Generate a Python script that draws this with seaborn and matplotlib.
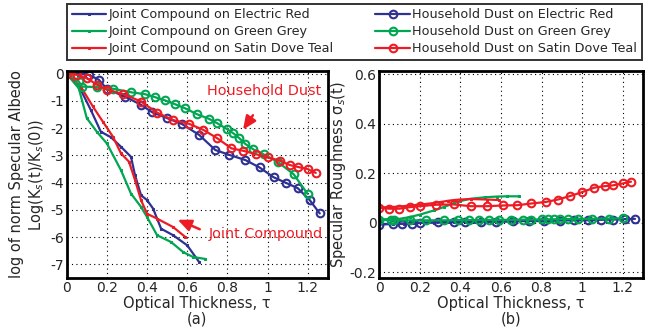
import numpy as np
import pandas as pd
import matplotlib
matplotlib.use("Agg")
import matplotlib.pyplot as plt
import seaborn as sns
from matplotlib.ticker import FuncFormatter

# ---- data ----
series_names = [
    "Joint Compound on Electric Red",
    "Joint Compound on Green Grey",
    "Joint Compound on Satin Dove Teal",
    "Household Dust on Electric Red",
    "Household Dust on Green Grey",
    "Household Dust on Satin Dove Teal",
]

jc_blue_x = [0, 0.07, 0.12, 0.17, 0.22, 0.27, 0.32, 0.34, 0.37, 0.40, 0.43, 0.47, 0.53, 0.60, 0.66]
jc_blue_a = [0, -0.59, -1.33, -2.13, -2.33, -2.68, -3.05, -3.72, -4.46, -4.64, -4.95, -5.69, -5.93, -6.30, -6.92]
jc_blue_b = [-0.005, -0.004, -0.003, -0.002, 0.0, 0.001, 0.002, 0.002, 0.003, 0.003, 0.004, 0.004, 0.005, 0.006, 0.006]

jc_green_x = [0, 0.06, 0.10, 0.15, 0.20, 0.27, 0.32, 0.37, 0.40, 0.45, 0.52, 0.58, 0.63, 0.69]
jc_green_a = [0, -0.53, -1.63, -2.13, -2.56, -3.54, -4.40, -4.89, -5.26, -5.93, -6.18, -6.55, -6.73, -6.80]
jc_green_b = [0.014, 0.015, 0.016, 0.023, 0.033, 0.050, 0.064, 0.080, 0.088, 0.097, 0.103, 0.106, 0.107, 0.107]

jc_red_x = [0, 0.07, 0.13, 0.18, 0.23, 0.27, 0.31, 0.34, 0.37, 0.40, 0.45, 0.53, 0.59]
jc_red_a = [0, -0.47, -1.20, -1.76, -2.31, -2.92, -3.23, -3.90, -4.64, -5.14, -5.32, -5.63, -5.99]
jc_red_b = [0.062, 0.064, 0.068, 0.072, 0.076, 0.080, 0.085, 0.089, 0.092, 0.094, 0.096, 0.094, 0.092]

hd_blue_x = [0, 0.07, 0.11, 0.16, 0.20, 0.29, 0.37, 0.425, 0.50, 0.575, 0.66, 0.74, 0.81, 0.89, 0.96, 1.03, 1.09, 1.15, 1.21, 1.26]
hd_blue_a = [0, 0, -0.04, -0.22, -0.56, -0.84, -1.14, -1.41, -1.63, -1.85, -2.25, -2.80, -2.98, -3.17, -3.44, -3.80, -4.00, -4.20, -4.64, -5.13]
hd_blue_b = [-0.007, -0.005, -0.004, -0.003, 0.0, 0.002, 0.003, 0.004, 0.005, 0.004, 0.006, 0.007, 0.007, 0.009, 0.010, 0.010, 0.012, 0.013, 0.015, 0.016]

hd_green_x = [0, 0.06, 0.075, 0.15, 0.23, 0.32, 0.39, 0.44, 0.49, 0.54, 0.59, 0.65, 0.71, 0.75, 0.80, 0.83, 0.86, 0.89, 0.93, 0.98, 1.05, 1.13, 1.20]
hd_green_a = [0, -0.28, -0.47, -0.49, -0.55, -0.68, -0.75, -0.86, -0.98, -1.12, -1.27, -1.49, -1.66, -1.82, -2.04, -2.19, -2.37, -2.58, -2.78, -2.96, -3.23, -3.69, -4.42]
hd_green_b = [0.012, 0.010, 0.010, 0.010, 0.010, 0.010, 0.011, 0.011, 0.011, 0.012, 0.012, 0.012, 0.013, 0.013, 0.014, 0.014, 0.014, 0.015, 0.015, 0.016, 0.016, 0.017, 0.018]

hd_red_x = [0, 0.05, 0.10, 0.15, 0.20, 0.28, 0.37, 0.45, 0.53, 0.61, 0.68, 0.75, 0.82, 0.88, 0.94, 1.00, 1.06, 1.11, 1.15, 1.20, 1.24]
hd_red_a = [0, -0.04, -0.16, -0.40, -0.59, -0.74, -1.02, -1.43, -1.70, -1.84, -2.06, -2.37, -2.74, -2.83, -2.95, -3.07, -3.19, -3.35, -3.42, -3.50, -3.64]
hd_red_b = [0.061, 0.057, 0.057, 0.063, 0.067, 0.073, 0.074, 0.067, 0.067, 0.070, 0.071, 0.078, 0.084, 0.094, 0.108, 0.124, 0.142, 0.148, 0.151, 0.159, 0.166]

x_ticks = [0, 0.2, 0.4, 0.6, 0.8, 1, 1.2]
ya_ticks = [0, -1, -2, -3, -4, -5, -6, -7]
yb_ticks = [-0.2, 0, 0.2, 0.4, 0.6]

# ---- style ----
sns.set_style("white")
plt.rcParams["font.family"] = ["DejaVu Sans"]

BLUE = "#2E3192"
GREEN = "#00A651"
RED = "#ED1C24"

series = [
    (series_names[0], jc_blue_x, jc_blue_a, jc_blue_b, BLUE, False),
    (series_names[1], jc_green_x, jc_green_a, jc_green_b, GREEN, False),
    (series_names[2], jc_red_x, jc_red_a, jc_red_b, RED, False),
    (series_names[3], hd_blue_x, hd_blue_a, hd_blue_b, BLUE, True),
    (series_names[4], hd_green_x, hd_green_a, hd_green_b, GREEN, True),
    (series_names[5], hd_red_x, hd_red_a, hd_red_b, RED, True),
]

fig = plt.figure(figsize=(6.56, 3.36), dpi=100)
axA = fig.add_axes([0.1017, 0.1726, 0.398, 0.616])
axB = fig.add_axes([0.578, 0.1726, 0.4024, 0.616])

fmt = FuncFormatter(lambda v, p: "%g" % round(v, 6))

for ax, col in ((axA, 2), (axB, 3)):
    for s in series:
        name, xs, ya, yb, c, circ = s
        df = pd.DataFrame({"x": xs, "y": s[col]})
        kw = dict(marker="o", markersize=5.5, markerfacecolor="none",
                  markeredgecolor=c, markeredgewidth=1.5) if circ else \
             dict(marker="s", markersize=2, markeredgecolor=c, markerfacecolor=c)
        sns.lineplot(data=df, x="x", y="y", ax=ax, color=c, linewidth=1.6,
                     sort=False, estimator=None, label=name, legend=False, **kw)
    ax.set_xlim(0, 1.3)
    ax.set_xticks(x_ticks)
    ax.xaxis.set_major_formatter(fmt)
    ax.yaxis.set_major_formatter(fmt)
    ax.grid(True, color="black", linestyle=(0, (1, 3)), linewidth=0.8)
    ax.tick_params(direction="in", length=3, labelsize=10, pad=2,
                   top=False, right=False)
    for sp in ax.spines.values():
        sp.set_linewidth(2)
        sp.set_color("black")
    ax.set_xlabel("Optical Thickness, τ\n(a)" if ax is axA else "Optical Thickness, τ\n(b)",
                  fontsize=10.5, labelpad=1, linespacing=1.0)

axA.set_ylim(-7.5, 0.1)
axA.set_yticks(ya_ticks)
axA.set_ylabel("log of norm Specular Albedo\nLog(K$_s$(t)/K$_s$(0))", fontsize=10.5,
               labelpad=3, linespacing=1.25)
axB.set_ylim(-0.223, 0.613)
axB.set_yticks(yb_ticks)
axB.set_ylabel("Specular Roughness σ$_s$(t)", fontsize=10.5, labelpad=1)

# annotations
axA.text(0.985, -0.62, "Household Dust", color=RED, fontsize=10.4, ha="center", va="center")
axA.annotate("", xy=(0.87, -2.14), xytext=(0.935, -1.44),
             arrowprops=dict(arrowstyle="-|>,head_length=0.8,head_width=0.35", color=RED, lw=1.8))
axA.text(0.99, -5.87, "Joint Compound", color=RED, fontsize=10.4, ha="center", va="center")
axA.annotate("", xy=(0.54, -5.32), xytext=(0.675, -5.75),
             arrowprops=dict(arrowstyle="-|>,head_length=0.8,head_width=0.35", color=RED, lw=1.8))

handles, labels = axA.get_legend_handles_labels()
leg = fig.legend(handles, labels, loc="upper left", ncol=2,
                 bbox_to_anchor=(0.1026, 0.8244, 0.8756, 0.1637), mode="expand",
                 fontsize=9.2, frameon=True, fancybox=False, borderaxespad=0,
                 handlelength=2.7, handletextpad=0.2, labelspacing=0.3,
                 borderpad=0.35, columnspacing=1.0)
leg.get_frame().set_edgecolor("black")
leg.get_frame().set_linewidth(1.4)

fig.savefig("out.png", dpi=100)
